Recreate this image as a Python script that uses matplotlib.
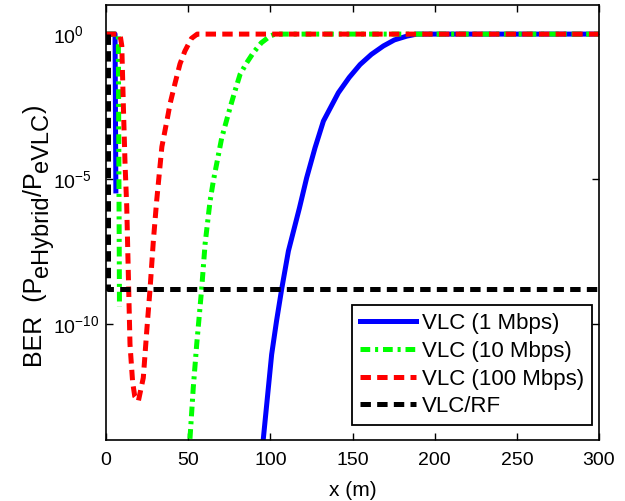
import numpy as np
import matplotlib
matplotlib.use("Agg")
import matplotlib.pyplot as plt
from matplotlib.ticker import FixedLocator, LogFormatterSciNotation, NullLocator

plt.rcParams["font.family"] = ["Liberation Sans", "DejaVu Sans"]
plt.rcParams["mathtext.fontset"] = "custom"
plt.rcParams["mathtext.rm"] = "Liberation Sans"
plt.rcParams["mathtext.it"] = "Liberation Sans:italic"
plt.rcParams["mathtext.bf"] = "Liberation Sans:bold"
plt.rcParams["lines.scale_dashes"] = False

# distance (m) and BER; nan = gap (BER below plot range)
x_1mbps = [0, 5.5, 6, np.nan, 95.8, 100.8, 103.8, 106.9, 111.0, 117.7, 122.1,
           127.2, 132.3, 141.4, 148.0, 154.6, 161.5, 168.8, 175.5, 183.0,
           189.1, 300]
ber_1mbps = [1, 1, 3.9e-6, np.nan, 1.2e-14, 8.9e-12, 1.3e-10, 1.6e-9, 3.3e-8,
             1.0e-6, 1.1e-5, 1.2e-4, 1.0e-3, 9.5e-3, 3.2e-2, 8.9e-2, 0.2,
             0.39, 0.63, 0.85, 1, 1]

x_10mbps = [0, 7.5, 8.2, np.nan, 51.1, 53.1, 55.2, 58.2, 60.3, 63.3, 65.3,
            70.4, 75.5, 78.5, 81.6, 85.5, 89.7, 94.5, 99.8, 102.9, 300]
ber_10mbps = [1, 1, 4.0e-10, np.nan, 1.1e-14, 6.3e-13, 2.0e-11, 1.6e-9, 5.8e-8,
              1.7e-6, 8.5e-6, 2.6e-4, 2.9e-3, 1.1e-2, 4.1e-2, 0.1, 0.23,
              0.5, 0.85, 1, 1]

x_100mbps = [0, 8.5, 9.6, 10.6, 11.6, 12.6, 13.6, 14.6, 16.2, 17.5, 19.7,
             22.7, 24.8, 26.8, 28.8, 30.8, 34.0, 37.8, 39.0, 42.0, 45.0,
             48.0, 52.0, 55.5, 300]
ber_100mbps = [1, 1, 0.4, 2.8e-3, 3.2e-5, 1.2e-6, 5.0e-9, 2.0e-11, 1.0e-12,
               3.2e-13, 2.2e-13, 1.4e-12, 5.8e-11, 1.6e-9, 7.2e-8, 1.7e-6,
               1.3e-4, 1.7e-3, 4.0e-3, 2.0e-2, 9.3e-2, 0.26, 0.71, 1, 1]

x_vlcrf = [1.5, 1.5, 300]
ber_vlcrf = [1, 1.6e-9, 1.6e-9]

labels = ["VLC (1 Mbps)", "VLC (10 Mbps)", "VLC (100 Mbps)", "VLC/RF"]

# y label pieces: (text, is_subscript)
ylabel_parts = [("BER  (P", False), ("eHybrid", True), ("/P", False),
                ("eVLC", True), (")", False)]

W, H = 625, 501
fig = plt.figure(figsize=(W / 100, H / 100), dpi=100)
ax = fig.add_axes([0.1696, 0.1218, 0.7888, 0.868])

ax.semilogy(x_1mbps, ber_1mbps, color=(0, 0, 1), lw=3.6, label=labels[0])
ax.semilogy(x_10mbps, ber_10mbps, color=(0, 1, 0), lw=3.6,
            dashes=(7, 3.5, 2.2, 3.5), label=labels[1])
ax.semilogy(x_100mbps, ber_100mbps, color=(1, 0, 0), lw=3.6,
            dashes=(7.5, 4.5), label=labels[2])
ax.semilogy(x_vlcrf, ber_vlcrf, color="black", lw=3.6,
            dashes=(7.5, 4.5), label=labels[3])

ax.set_xlim(0, 300)
ax.set_ylim(1e-14, 1e1)
ax.set_xticks([0, 50, 100, 150, 200, 250, 300])
ax.yaxis.set_major_locator(FixedLocator([1e-10, 1e-5, 1]))
ax.yaxis.set_major_formatter(LogFormatterSciNotation())
ax.yaxis.set_minor_locator(NullLocator())

ax.tick_params(which="both", direction="in", top=True, right=True,
               length=5, width=1, labelsize=14)
ax.tick_params(axis="x", pad=9)
ax.tick_params(axis="y", pad=38)
for t in ax.get_yticklabels():
    t.set_horizontalalignment("left")
for s in ax.spines.values():
    s.set_linewidth(1.2)

ax.set_xlabel("x (m)", fontsize=15, labelpad=8)

# rotated y label built piece by piece so the subscripts keep a MATLAB-like size
fig.canvas.draw()
renderer = fig.canvas.get_renderer()
main_size, sub_size = 18, 17
x_base = 42
widths = []
for s, sub in ylabel_parts:
    tmp = fig.text(0, 0, s, fontsize=sub_size if sub else main_size)
    widths.append(tmp.get_window_extent(renderer).width)
    tmp.remove()
total = sum(widths)
y_cur = H - (236 + total / 2)
for (s, sub), w in zip(ylabel_parts, widths):
    xo = x_base + (6 if sub else 0)
    fig.text(xo / W, y_cur / H, s, rotation=90, rotation_mode="anchor",
             ha="left", va="baseline",
             fontsize=sub_size if sub else main_size)
    y_cur += w

leg = ax.legend(loc="lower right", bbox_to_anchor=(0.986, 0.0345),
                fontsize=16, handlelength=2.5, handletextpad=0.3,
                borderpad=0.35, labelspacing=0.3, borderaxespad=0,
                fancybox=False, edgecolor="black", framealpha=1)
leg.get_frame().set_linewidth(1.3)

fig.savefig("out.png", dpi=100)
